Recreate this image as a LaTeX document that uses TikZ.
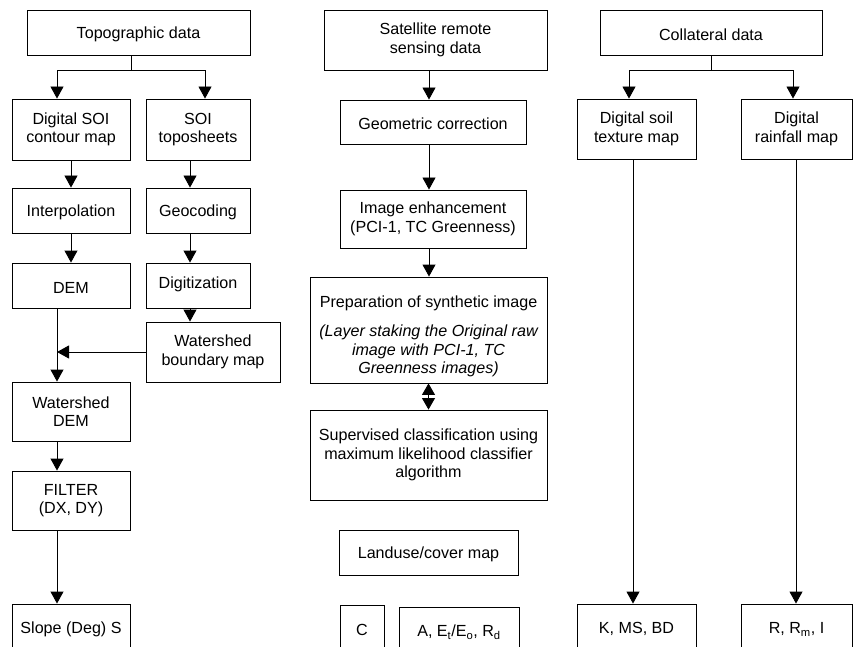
\documentclass[tikz,border=0pt]{standalone}
\usepackage{fontspec}
\setmainfont{Liberation Sans}
\usetikzlibrary{arrows.meta,calc}
\begin{document}
\begin{tikzpicture}[x=1pt,y=1pt,
  box/.style={draw, line width=0.9pt, inner sep=0pt, align=center, font=\fontsize{16.1}{18.6}\selectfont,
    execute at begin node={\rule{0pt}{15.8pt}}},
  sz/.style 2 args={minimum width=#1pt, minimum height=#2pt},
  ln/.style={line width=0.9pt},
  arr/.style={ln, -{Triangle[length=12pt,width=13pt]}},
  darr/.style={ln, {Triangle[length=11.5pt,width=13pt]}-{Triangle[length=11.5pt,width=13pt]}}]
\useasboundingbox (0,0) rectangle (853,-647);
\fill[white] (0,0) rectangle (853,-647);
% left column
\node[box, sz={223}{45}] (topo) at (138.5,-32.5) {Topographic data};
\node[box, sz={118}{61}] (dsoi) at (71,-129.5) {Digital SOI\\[-1pt]contour map};
\node[box, sz={104}{61}] (soi) at (198,-129.5) {SOI\\[-1pt]toposheets};
\node[box, sz={118}{45}] (interp) at (71,-210.5) {Interpolation};
\node[box, sz={104}{45}] (geo) at (198,-210.5) {Geocoding};
\node[box, sz={118}{45}] (dem) at (71,-285.5) {DEM};
\node[box, sz={104}{45}] (digi) at (198,-285.5) {Digitization\rule[-10pt]{0pt}{1pt}};
\node[box, sz={134}{60}] (wbm) at (213,-352) {Watershed\\boundary map};
\node[box, sz={118}{59}] (wdem) at (71,-411.5) {Watershed\\DEM};
\node[box, sz={118}{59}] (filter) at (71,-500.5) {FILTER\\(DX, DY)};
\node[box, sz={118}{46}] (slope) at (71,-627) {Slope (Deg) S};
% middle column
\node[box, sz={223}{60}] (sat) at (435.5,-40) {Satellite remote\\sensing data};
\node[box, sz={186}{44}] (geom) at (433,-122) {Geometric correction};
\node[box, sz={186}{58}] (enh) at (433,-219) {Image enhancement\\(PCI-1, TC Greenness)};
\node[box, sz={237}{106}] (prep) at (428.5,-330) {\rule{0pt}{25pt}Preparation of synthetic image\\[10.4pt]\itshape (Layer staking the Original raw\\\itshape image with PCI-1, TC\\\itshape Greenness images)};
\node[box, sz={237}{90}] (sup) at (428.5,-455) {Supervised classification using\\maximum likelihood classifier\\algorithm};
\node[box, sz={179}{45}] (land) at (428.5,-552.5) {Landuse/cover map};
\node[box, sz={44}{46}] (cc) at (362,-628) {C};
\node[box, sz={120}{46}] (aa) at (459,-630) {A, E\textsubscript{t}/E\textsubscript{o}, R\textsubscript{d}};
% right column
\node[box, sz={222}{45}] (coll) at (711,-32.5) {Collateral data};
\node[box, sz={119}{60}] (soil) at (636.5,-129) {Digital soil\\texture map};
\node[box, sz={111}{60}] (rain) at (796.5,-129) {Digital\\rainfall map};
\node[box, sz={119}{46}] (kk) at (636.5,-627) {K, MS, BD};
\node[box, sz={111}{46}] (rr) at (796.5,-627) {R, R\textsubscript{m}, I};
% connectors left
\draw[ln] ([xshift=-7.5pt]topo.south) -- ++(0,-15) coordinate (tj);
\draw[arr] (tj) -| ([xshift=-14pt]dsoi.north);
\draw[arr] (tj) -| ([xshift=7pt]soi.north);
\draw[arr] (dsoi) -- (interp);
\coordinate (s1) at ([xshift=-8pt]soi.south);
\draw[arr] (s1) -- (s1 |- geo.north);
\draw[arr] (interp) -- (dem);
\coordinate (g1) at ([xshift=-8pt]geo.south);
\draw[arr] (g1) -- (g1 |- digi.north);
\coordinate (d1) at ([xshift=-8pt]digi.south);
\draw[arr] (d1) -- (d1 |- wbm.north);
\coordinate (e1) at ([xshift=-14pt]dem.south);
\draw[arr] (e1) -- (e1 |- wdem.north);
\draw[arr] (wbm.west) -- (wbm.west -| e1);
\coordinate (e2) at ([xshift=-14pt]wdem.south);
\draw[arr] (e2) -- (e2 |- filter.north);
\coordinate (e3) at ([xshift=-14pt]filter.south);
\draw[arr] (e3) -- (e3 |- slope.north);
% connectors middle
\coordinate (m1) at ([xshift=-6.5pt]sat.south);
\draw[arr] (m1) -- (m1 |- geom.north);
\coordinate (m2) at ([xshift=-4pt]geom.south);
\draw[arr] (m2) -- (m2 |- enh.north);
\coordinate (m3) at ([xshift=-4pt]enh.south);
\draw[arr] (m3) -- (m3 |- prep.north);
\draw[darr] (prep.south) -- (sup.north);
% connectors right
\draw[ln] (coll.south) -- ++(0,-15) coordinate (cj);
\draw[arr] (cj) -| ([xshift=-7.5pt]soil.north);
\draw[arr] (cj) -| ([xshift=-3.5pt]rain.north);
\coordinate (r1) at ([xshift=-3.5pt]soil.south);
\draw[arr] (r1) -- (r1 |- kk.north);
\coordinate (r2) at ([xshift=-0.5pt]rain.south);
\draw[arr] (r2) -- (r2 |- rr.north);
\end{tikzpicture}
\end{document}
